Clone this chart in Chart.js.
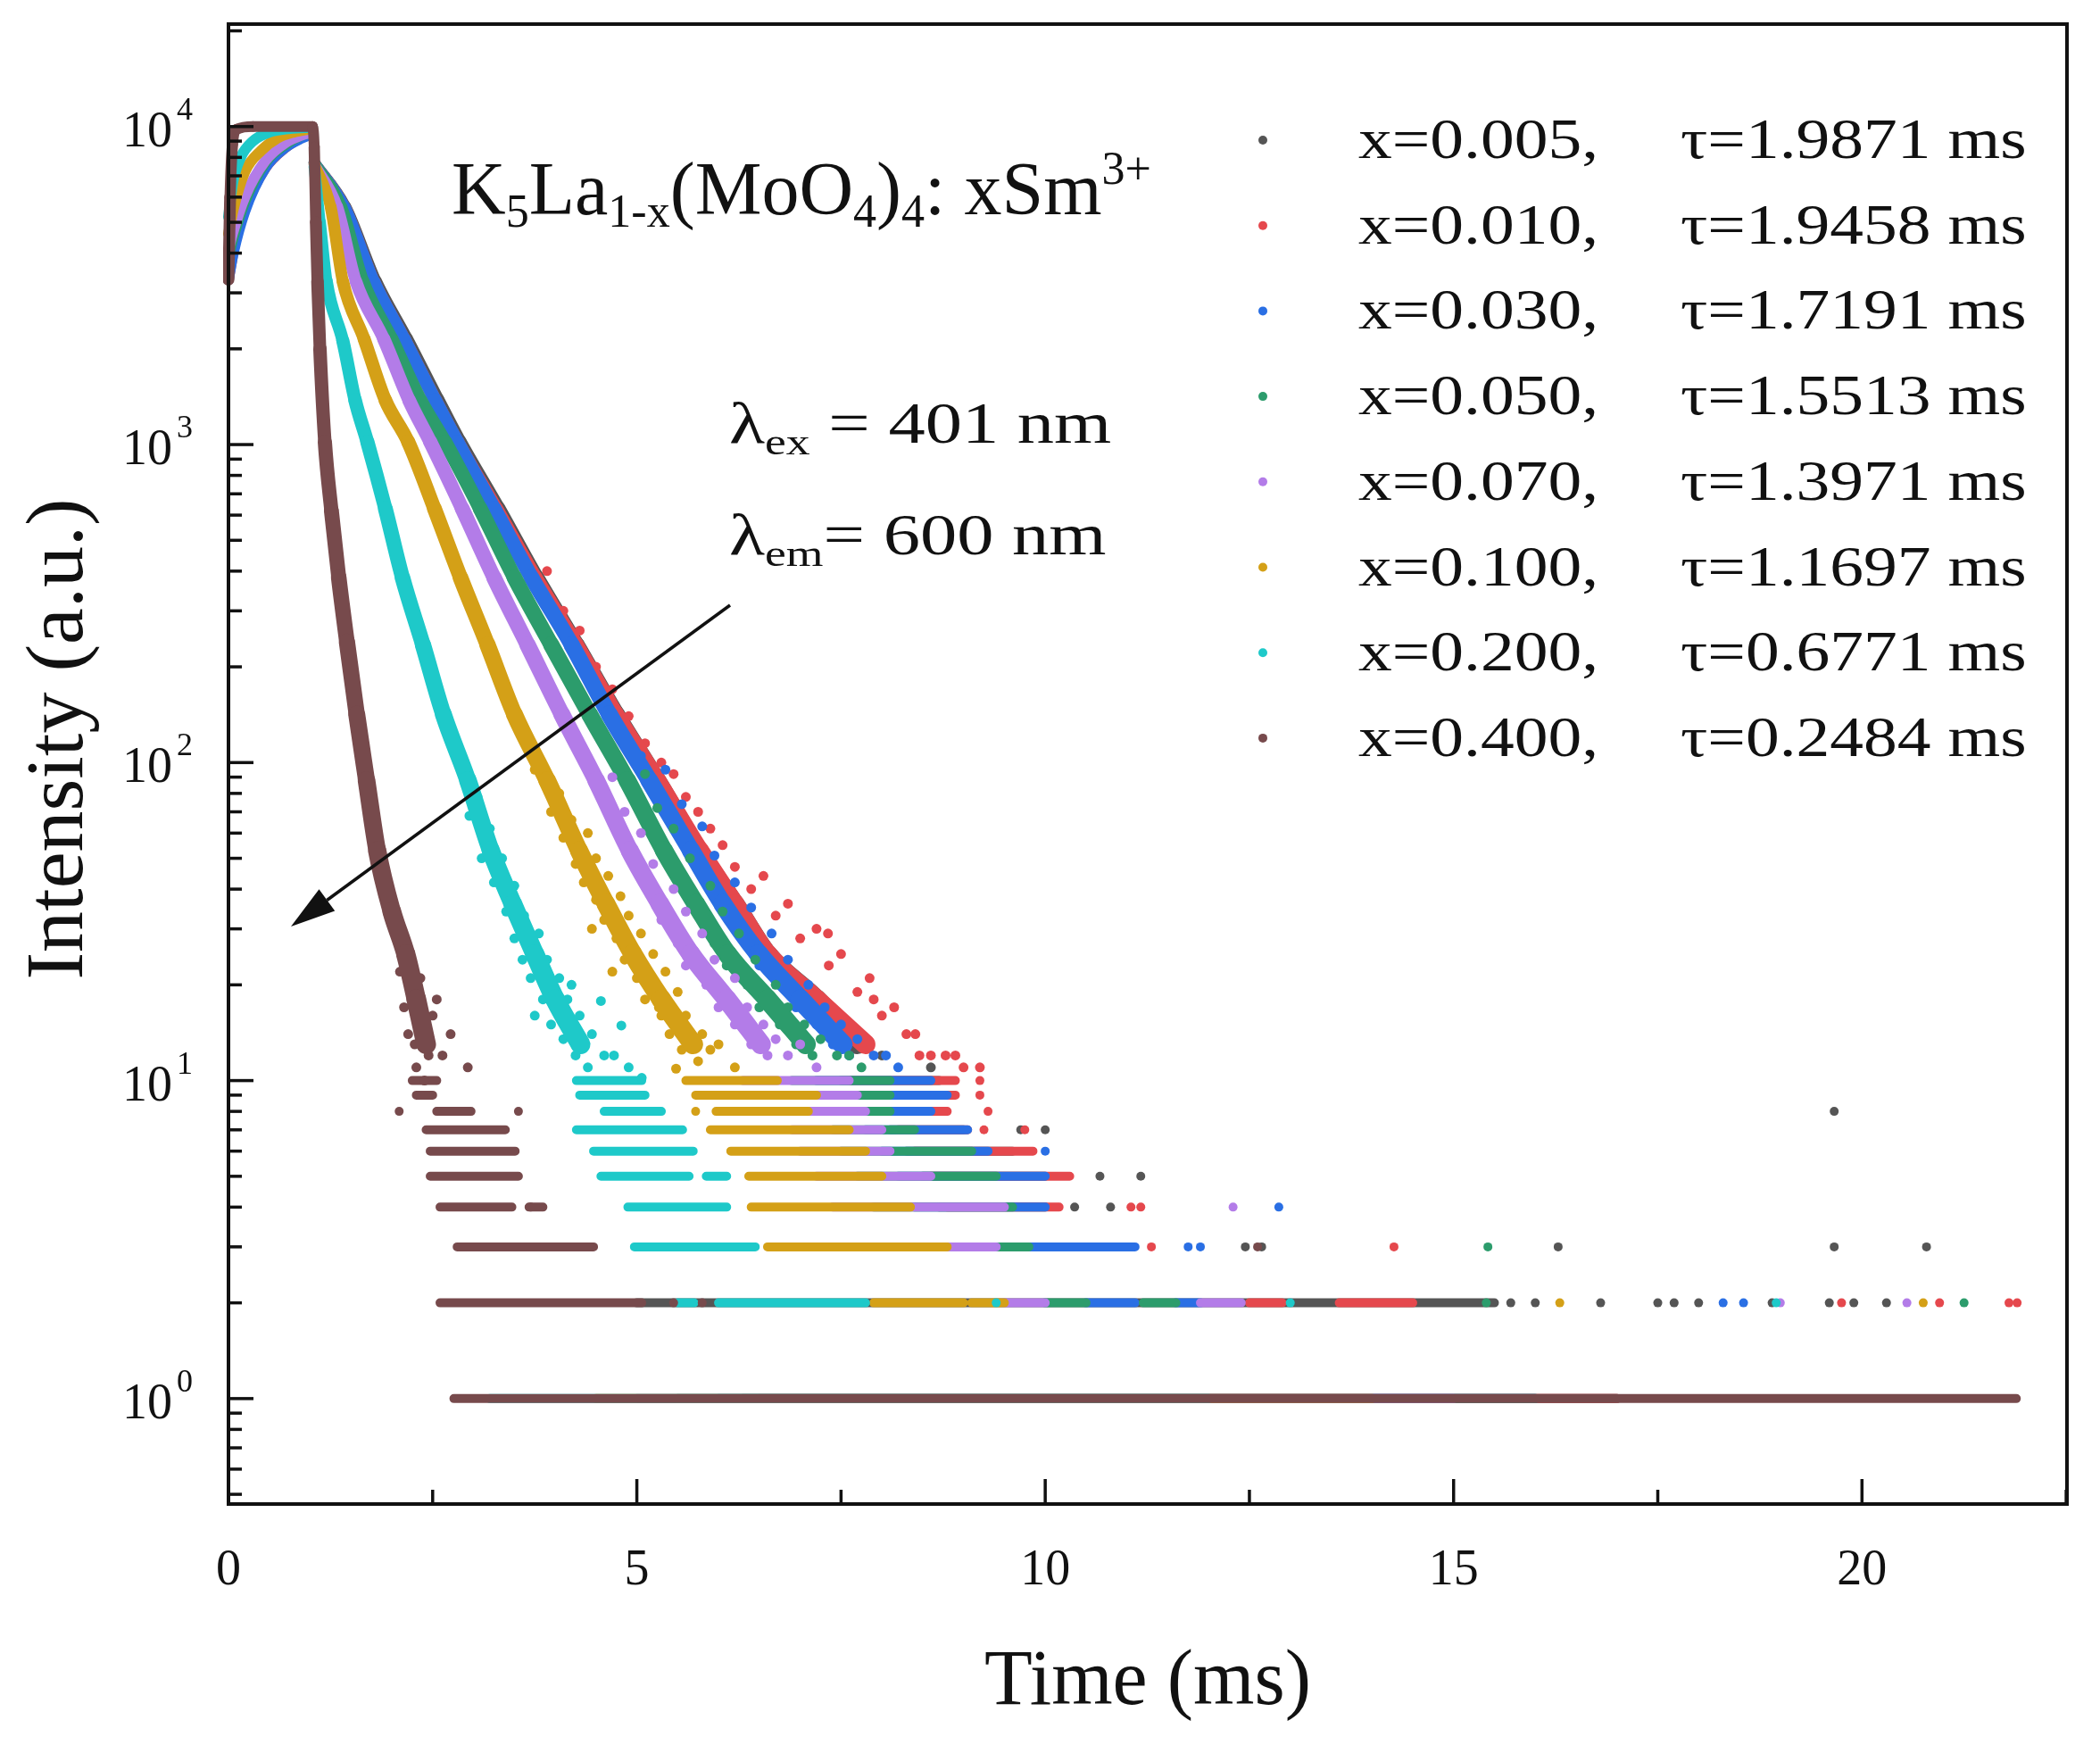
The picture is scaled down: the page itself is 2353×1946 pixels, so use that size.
<!DOCTYPE html>
<html lang="en">
<head>
    <meta charset="UTF-8">
    <title>Decay curves K5La1-x(MoO4)4:xSm3+</title>
    <script src="https://cdn.jsdelivr.net/npm/chart.js"></script>
    <style>
        html, body { margin: 0; padding: 0; background: #fff; }
        canvas { display: block; }
    </style>
</head>
<body>
<canvas id="decayChart" width="2353" height="1946"></canvas>
<script>
// series labels (legend)
var concLabels = ["x=0.005,", "x=0.010,", "x=0.030,", "x=0.050,", "x=0.070,", "x=0.100,", "x=0.200,", "x=0.400,"];
var tauLabels = ["\u03c4=1.9871 ms", "\u03c4=1.9458 ms", "\u03c4=1.7191 ms", "\u03c4=1.5513 ms",
                 "\u03c4=1.3971 ms", "\u03c4=1.1697 ms", "\u03c4=0.6771 ms", "\u03c4=0.2484 ms"];

// tick labels
var xTicks = [0, 5, 10, 15, 20];
var yTickExp = [0, 1, 2, 3, 4];

// rise part, [time ms, intensity]
var rise005 = [[0, 3400], [0.08, 4400], [0.2, 5600], [0.45, 7500], [0.7, 8700], [0.9, 9300], [1.03, 9500]];
var rise010 = [[0, 3300], [0.08, 4300], [0.2, 5500], [0.45, 7400], [0.7, 8600], [0.9, 9250], [1.03, 9500]];
var rise030 = [[0, 3300], [0.06, 4000], [0.2, 5400], [0.45, 7400], [0.7, 8600], [0.9, 9200], [1.03, 9500]];
var rise050 = [[0, 3900], [0.05, 4400], [0.2, 5800], [0.45, 7700], [0.7, 8800], [0.9, 9400], [1.03, 9600]];
var rise070 = [[0, 4100], [0.05, 4600], [0.2, 6000], [0.45, 7800], [0.7, 8900], [0.9, 9400], [1.03, 9600]];
var rise100 = [[0, 4600], [0.06, 5500], [0.2, 7200], [0.4, 8400], [0.6, 9200], [0.8, 9600], [1.03, 9850]];
var rise200 = [[0, 5200], [0.05, 6600], [0.15, 8000], [0.3, 9000], [0.5, 9600], [0.75, 9850], [1.03, 9950]];
var rise400 = [[0, 3300], [0.02, 6000], [0.05, 8800], [0.1, 9800], [0.3, 10000], [0.6, 10000], [1.03, 10000]];

// decay part, [time ms, intensity]
var decay005 = [[1.05, 7700], [1.43, 5600], [1.8, 3270], [2.18, 2150], [2.56, 1385], [2.83, 1020], [3.3, 630], [3.77, 382],
                [4.26, 235], [4.75, 142], [5.25, 88], [5.76, 53], [6.2, 36], [6.6, 25], [7.2, 18], [7.7, 13]];
var decay010 = [[1.05, 7700], [1.42, 5600], [1.78, 3260], [2.15, 2150], [2.53, 1380], [2.8, 1020], [3.27, 630], [3.75, 382],
                [4.25, 235], [4.74, 142], [5.25, 88], [5.77, 53], [6.2, 36], [6.6, 25], [7.2, 18], [7.8, 13]];
var decay030 = [[1.05, 7700], [1.42, 5600], [1.78, 3260], [2.15, 2150], [2.53, 1380], [2.8, 1020], [3.25, 630], [3.71, 382],
                [4.2, 235], [4.66, 142], [5.15, 88], [5.66, 53], [6.05, 36], [6.49, 25], [7.0, 18], [7.52, 13]];
var decay050 = [[1.05, 7700], [1.38, 5600], [1.65, 3260], [2.0, 2150], [2.35, 1380], [2.65, 1020], [3.08, 630], [3.5, 382],
                [3.95, 235], [4.42, 142], [4.88, 88], [5.33, 53], [5.72, 36], [6.11, 25], [6.6, 18], [7.07, 13]];
var decay070 = [[1.05, 7600], [1.33, 5600], [1.56, 3260], [1.9, 2150], [2.21, 1380], [2.47, 1020], [2.86, 630], [3.25, 382],
                [3.66, 235], [4.08, 142], [4.5, 88], [4.91, 53], [5.28, 36], [5.66, 25], [6.1, 18], [6.52, 13]];
var decay100 = [[1.05, 7600], [1.25, 5600], [1.4, 3260], [1.66, 2150], [1.92, 1380], [2.2, 1020], [2.52, 630], [2.84, 382],
                [3.17, 235], [3.5, 142], [3.9, 88], [4.29, 53], [4.62, 36], [4.95, 25], [5.3, 18], [5.69, 13]];
var decay200 = [[1.05, 7500], [1.12, 5000], [1.2, 3260], [1.4, 2120], [1.55, 1380], [1.7, 1020], [1.92, 630], [2.13, 382],
                [2.38, 235], [2.63, 142], [2.93, 88], [3.21, 53], [3.48, 36], [3.75, 25], [4.0, 18], [4.31, 13]];
var decay400 = [[1.03, 9900], [1.05, 8600], [1.07, 5000], [1.09, 3260], [1.12, 2000], [1.18, 1020], [1.26, 620], [1.35, 382],
                [1.45, 240], [1.57, 142], [1.69, 88], [1.82, 53], [2.0, 34], [2.17, 25], [2.3, 18], [2.42, 13]];

// scattered points around the lower end of each decay, [time ms, intensity]
var noise005 = [[7.0, 20], [7.5, 15], [8.0, 12], [8.6, 11]];
var noise010 = [[3.9, 400], [4.1, 300], [4.3, 260], [4.5, 200], [4.7, 170], [4.9, 140], [5.1, 115], [5.3, 100], [5.45, 92],
                [5.6, 78], [5.75, 70], [5.9, 62], [6.05, 55], [6.2, 47], [6.4, 40], [6.55, 44], [6.7, 33], [6.85, 36],
                [7.0, 28], [7.2, 30], [7.34, 29], [7.35, 23], [7.5, 25], [7.7, 19], [7.85, 21], [7.9, 18], [8.0, 16],
                [8.15, 17], [8.3, 14], [8.41, 14], [8.46, 12], [8.6, 12], [8.78, 12], [8.9, 12], [9.0, 11], [9.2, 11]];
var noise030 = [[5.05, 105], [5.35, 95], [5.3, 78], [5.55, 74], [5.5, 62], [5.8, 63], [5.7, 49], [5.95, 51], [5.9, 40],
                [6.2, 42], [6.1, 33], [6.4, 35], [6.3, 28], [6.65, 29], [6.5, 23], [6.85, 24], [6.8, 20], [7.1, 20],
                [6.95, 17], [7.3, 17], [7.2, 15], [7.5, 15], [7.4, 13], [7.7, 13.5], [7.6, 12], [7.9, 12], [8.05, 12],
                [8.2, 11]];
var noise050 = [[4.8, 100], [5.1, 92], [5.0, 76], [5.25, 72], [5.2, 60], [5.45, 62], [5.4, 48], [5.65, 50], [5.6, 39],
                [5.9, 41], [5.75, 33], [6.05, 34], [5.95, 27], [6.25, 29], [6.1, 23], [6.45, 24], [6.35, 20], [6.7, 20],
                [6.5, 17], [6.85, 17], [6.75, 15], [7.05, 15], [6.95, 13], [7.25, 13.5], [7.15, 12], [7.45, 12],
                [7.6, 12], [7.75, 11]];
var noise070 = [[4.4, 100], [4.7, 90], [4.6, 75], [4.85, 70], [4.8, 58], [5.05, 60], [5.0, 47], [5.2, 48], [5.15, 39],
                [5.45, 40], [5.3, 32], [5.6, 34], [5.5, 27], [5.8, 29], [5.6, 23], [5.95, 24], [5.85, 20], [6.2, 21],
                [6.0, 17], [6.35, 17], [6.2, 15], [6.55, 15], [6.4, 13], [6.7, 13.5], [6.6, 12], [6.85, 12], [7.0, 13],
                [7.2, 11]];
var noise100 = [[3.75, 95], [4.05, 80], [3.95, 70], [4.2, 66], [4.1, 58], [4.4, 60], [4.25, 48], [4.5, 50], [4.35, 42],
                [4.65, 44], [4.5, 37], [4.8, 38], [4.6, 32], [4.9, 33], [4.45, 30], [4.75, 28], [5.05, 29], [4.85, 24],
                [5.2, 25], [4.7, 22], [5.0, 21], [5.35, 22], [5.1, 18], [5.5, 19], [5.27, 17], [5.3, 16], [5.6, 16],
                [5.4, 14], [5.8, 14], [5.55, 12.5], [5.9, 12.5], [5.48, 10.9], [5.75, 11.5], [6.0, 13], [6.2, 11]];
var noise200 = [[2.85, 100], [3.05, 78], [2.95, 68], [3.2, 62], [3.1, 50], [3.35, 50], [3.25, 42], [3.5, 41], [3.4, 34],
                [3.62, 33], [3.5, 28], [3.8, 29], [3.6, 24], [3.9, 24], [3.7, 21], [4.05, 21], [4.2, 20], [3.85, 18],
                [4.15, 18], [3.75, 16], [3.95, 15], [4.3, 16], [4.1, 13.5], [4.45, 14], [4.25, 12], [4.6, 12],
                [4.4, 11], [4.72, 12], [4.81, 14.9], [4.56, 17.8], [4.9, 11], [5.06, 10.2]];
var noise400 = [[1.72, 75], [1.8, 62], [1.86, 48], [1.92, 42], [1.98, 38], [2.05, 30], [2.1, 22], [2.12, 28], [2.15, 17],
                [2.2, 26], [2.2, 14], [2.25, 19], [2.28, 13], [2.3, 17], [2.3, 11], [2.35, 21], [2.4, 14], [2.4, 10],
                [2.45, 12], [2.5, 16], [2.55, 18], [2.62, 12], [2.72, 14], [2.93, 11]];

// counting floor: runs of points at one integer level, [level, from ms, to ms]
var runs005 = [[10, 7.5, 8.7], [9, 7.7, 8.8], [8, 7.9, 8.7], [7, 8.1, 9.0], [6, 8.3, 9.6], [5, 8.5, 10.0], [4, 8.7, 10.0],
               [3, 8.9, 10.4], [2, 5.0, 15.5], [1, 6.3, 17.0]];
var runs010 = [[10, 7.6, 8.9], [9, 7.8, 8.9], [8, 8.0, 8.8], [7, 8.2, 9.05], [6, 8.4, 9.85], [5, 8.6, 10.3], [4, 8.8, 10.17],
               [3, 9.0, 10.5], [2, 12.5, 12.9], [2, 13.6, 14.5], [1, 6.5, 17.0]];
var runs030 = [[10, 7.2, 8.6], [9, 7.4, 8.8], [8, 7.6, 8.6], [7, 7.8, 9.05], [6, 8.0, 9.3], [5, 8.2, 10.0], [4, 8.4, 10.0],
               [3, 8.6, 11.1], [2, 10.5, 11.1], [2, 11.6, 11.9], [1, 6.0, 16.0]];
var runs050 = [[10, 6.9, 8.1], [9, 7.0, 8.1], [8, 7.2, 8.1], [7, 7.4, 8.4], [6, 7.5, 9.1], [5, 7.7, 9.4], [4, 7.9, 9.6],
               [3, 8.1, 9.8], [2, 10.0, 10.5], [2, 11.2, 11.6], [1, 5.5, 16.0]];
var runs070 = [[10, 6.3, 7.6], [9, 6.5, 7.7], [8, 6.7, 7.8], [7, 6.9, 8.0], [6, 7.0, 8.1], [5, 7.2, 8.6], [4, 7.4, 9.5],
               [3, 7.6, 9.4], [2, 9.5, 10.0], [2, 11.9, 12.4], [1, 5.0, 15.0]];
var runs100 = [[10, 5.6, 6.72], [9, 5.72, 7.2], [8, 5.97, 7.1], [7, 5.9, 7.6], [6, 6.15, 7.8], [5, 6.37, 8.0], [4, 6.4, 8.35],
               [3, 6.6, 8.8], [2, 7.9, 9.0], [2, 9.1, 9.5], [1, 4.5, 14.0]];
var runs200 = [[10, 4.26, 5.06], [9, 4.3, 5.1], [8, 4.6, 5.3], [7, 4.26, 5.56], [6, 4.47, 5.69], [5, 4.56, 5.64], [5, 5.85, 6.1],
               [4, 4.89, 6.1], [3, 4.97, 6.45], [2, 5.5, 5.7], [2, 6.0, 7.8], [1, 3.2, 12.0]];
var runs400 = [[10, 2.25, 2.55], [9, 2.3, 2.5], [8, 2.55, 2.97], [7, 2.42, 3.39], [6, 2.47, 3.51], [5, 2.47, 3.55],
               [4, 2.59, 3.47], [4, 3.68, 3.85], [3, 2.8, 4.47], [2, 2.59, 5.06], [1, 2.76, 21.89]];

// isolated points on the counting floor, [time ms, level]
var dots005 = [[9.7, 7], [10.0, 7], [10.67, 5], [11.17, 5], [10.36, 4], [10.8, 4], [12.45, 3], [12.65, 3], [16.28, 3],
               [19.66, 3], [20.79, 3], [19.66, 8], [15.7, 2], [16.0, 2], [16.8, 2], [17.5, 2], [17.7, 2], [18.0, 2],
               [18.9, 2], [19.6, 2], [19.9, 2], [20.3, 2]];
var dots010 = [[9.2, 10], [9.2, 9], [9.3, 8], [9.25, 7], [9.75, 7], [11.05, 4], [11.17, 4], [11.3, 3], [14.27, 3],
               [19.75, 2], [20.95, 2], [21.8, 2], [21.9, 2]];
var dots030 = [[10.0, 6], [12.86, 4], [11.75, 3], [11.9, 3], [18.3, 2], [18.55, 2]];
var dots050 = [[15.42, 3], [15.4, 2], [21.25, 2]];
var dots070 = [[12.3, 4], [19.0, 2], [20.55, 2]];
var dots100 = [[5.72, 8], [16.3, 2], [20.75, 2]];
var dots200 = [[9.4, 2], [13.0, 2], [18.95, 2]];
var dots400 = [[2.09, 8], [3.55, 8], [3.7, 4], [12.6, 3], [5.45, 2], [5.8, 2]];

var riseSets = [rise005, rise010, rise030, rise050, rise070, rise100, rise200, rise400];
var decaySets = [decay005, decay010, decay030, decay050, decay070, decay100, decay200, decay400];
var noiseSets = [noise005, noise010, noise030, noise050, noise070, noise100, noise200, noise400];
var runSets = [runs005, runs010, runs030, runs050, runs070, runs100, runs200, runs400];
var dotSets = [dots005, dots010, dots030, dots050, dots070, dots100, dots200, dots400];

var colors = ["#555555", "#e5484d", "#2a6fe4", "#2c9c6c", "#b37ce8", "#d4a017", "#1ec9c9", "#774a4c"];

function toXY(arr) {
    return arr.map(function(p) { return { x: p[0], y: p[1] }; });
}

function runPoints(runs) {
    var out = [];
    runs.forEach(function(r) {
        out.push({ x: r[1], y: r[0] }, { x: r[2], y: r[0] }, { x: r[2], y: null });
    });
    return out;
}

// band gets wider as the signal gets noisier
function bandWidth(ctx) {
    var y = Math.sqrt(ctx.p0.parsed.y * ctx.p1.parsed.y);
    return 12 + 3.6 * (4 - Math.log10(y));
}

var datasets = [];
for (var i = 0; i < 8; i++) {
    var c = colors[i];
    var ord = 7 - i; // x=0.400 drawn on top
    var rise = toXY(riseSets[i]);
    var decay = toXY(decaySets[i]);
    if (i === 7) {
        // brown falls straight from the plateau
        datasets.push({ label: concLabels[i], data: rise.concat(decay), showLine: true, borderColor: c,
                        borderWidth: 14, segment: { borderWidth: bandWidth }, cubicInterpolationMode: "monotone",
                        borderCapStyle: "round", borderJoinStyle: "round", pointRadius: 0, order: ord, clip: 6 });
    } else {
        datasets.push({ label: concLabels[i], data: rise, showLine: true, borderColor: c, borderWidth: 12,
                        cubicInterpolationMode: "monotone", borderCapStyle: "round", pointRadius: 0, order: ord, clip: 6 });
        datasets.push({ data: decay, showLine: true, borderColor: c, borderWidth: 14, segment: { borderWidth: bandWidth },
                        cubicInterpolationMode: "monotone", borderCapStyle: "round", borderJoinStyle: "round",
                        pointRadius: 0, order: ord });
    }
    datasets.push({ data: toXY(noiseSets[i]), backgroundColor: c, borderWidth: 0, pointRadius: 5.5, order: ord });
    datasets.push({ data: runPoints(runSets[i]), showLine: true, borderColor: c, borderWidth: 10,
                    borderCapStyle: "round", pointRadius: 0, order: ord });
    datasets.push({ data: toXY(dotSets[i]), backgroundColor: c, borderWidth: 0, pointRadius: 5, order: ord });
}

var SERIF = '"Liberation Serif", "Times New Roman", serif';

// draws pieces [text, sizeFactor, dy] one after the other, returns end x
function richText(ctx, pieces, x, y, size, sx) {
    var cx = x;
    pieces.forEach(function(p) {
        var fs = size * p[1];
        ctx.font = fs + "px " + SERIF;
        ctx.save();
        ctx.translate(cx, y + p[2] * size);
        ctx.scale(sx, 1);
        ctx.fillText(p[0], 0, 0);
        ctx.restore();
        cx += ctx.measureText(p[0]).width * sx;
    });
    return cx;
}

var decor = {
    id: "decor",
    afterDraw: function(chart) {
        var ctx = chart.ctx;
        var a = chart.chartArea;
        var xs = chart.scales.x, ys = chart.scales.y;
        ctx.save();
        ctx.fillStyle = "#111";
        ctx.strokeStyle = "#111";
        ctx.lineWidth = 4;
        ctx.textBaseline = "alphabetic";

        // frame
        ctx.strokeRect(a.left, a.top, a.right - a.left, a.bottom - a.top);

        // y ticks, inward
        ctx.lineWidth = 3.5;
        for (var e = -1; e <= 4; e++) {
            for (var k = 1; k <= 9; k++) {
                var v = k * Math.pow(10, e);
                if (v < ys.min || v > ys.max) continue;
                var py = ys.getPixelForValue(v);
                var len = k === 1 ? 28 : 15;
                ctx.beginPath();
                ctx.moveTo(a.left, py);
                ctx.lineTo(a.left + len, py);
                ctx.stroke();
            }
        }
        // x ticks, inward
        for (var t = 0; t <= xs.max; t += 2.5) {
            var px = xs.getPixelForValue(t);
            var major = Math.abs(t % 5) < 1e-6;
            ctx.beginPath();
            ctx.moveTo(px, a.bottom);
            ctx.lineTo(px, a.bottom - (major ? 28 : 16));
            ctx.stroke();
        }

        // y tick labels 10^n
        yTickExp.forEach(function(n) {
            var py = ys.getPixelForValue(Math.pow(10, n));
            ctx.font = "56px " + SERIF;
            ctx.textAlign = "right";
            ctx.fillText("10", 193, py + 22);
            ctx.font = "36px " + SERIF;
            ctx.textAlign = "left";
            ctx.fillText(String(n), 198, py - 8);
        });

        // x tick labels
        ctx.font = "56px " + SERIF;
        ctx.textAlign = "center";
        xTicks.forEach(function(v) {
            ctx.fillText(String(v), xs.getPixelForValue(v), 1775);
        });

        // axis titles
        ctx.font = "88px " + SERIF;
        ctx.textAlign = "center";
        ctx.fillText("Time (ms)", (a.left + a.right) / 2, 1909);
        ctx.save();
        ctx.translate(92, 828);
        ctx.rotate(-Math.PI / 2);
        ctx.font = "92px " + SERIF;
        ctx.fillText("Intensity (a.u.)", 0, 0);
        ctx.restore();

        // composition and wavelengths
        ctx.textAlign = "left";
        richText(ctx, [["K", 1, 0], ["5", 0.62, 0.17], ["La", 1, 0], ["1-x", 0.62, 0.17], ["(MoO", 1, 0],
                       ["4", 0.62, 0.17], [")", 1, 0], ["4", 0.62, 0.17], [": xSm", 1, 0], ["3+", 0.62, -0.4]],
                 506, 240, 84, 1.0);
        richText(ctx, [["\u03bb", 1, 0], ["ex", 0.65, 0.2], [" = 401 nm", 1, 0]], 817, 496, 66, 1.25);
        richText(ctx, [["\u03bb", 1, 0], ["em", 0.65, 0.2], ["= 600 nm", 1, 0]], 817, 621, 66, 1.25);

        // arrow
        var x0 = 818, y0 = 678, x1 = 326, y1 = 1038;
        var ang = Math.atan2(y1 - y0, x1 - x0);
        var hl = 50, hw = 15;
        var bx = x1 - hl * Math.cos(ang), by = y1 - hl * Math.sin(ang);
        ctx.lineWidth = 3.5;
        ctx.beginPath();
        ctx.moveTo(x0, y0);
        ctx.lineTo(bx, by);
        ctx.stroke();
        ctx.beginPath();
        ctx.moveTo(x1, y1);
        ctx.lineTo(bx + hw * Math.sin(ang), by - hw * Math.cos(ang));
        ctx.lineTo(bx - hw * Math.sin(ang), by + hw * Math.cos(ang));
        ctx.closePath();
        ctx.fill();

        // legend
        for (var i = 0; i < concLabels.length; i++) {
            var base = 177 + 95.7 * i;
            ctx.fillStyle = colors[i];
            ctx.beginPath();
            ctx.arc(1415, base - 20, 5, 0, Math.PI * 2);
            ctx.fill();
            ctx.fillStyle = "#111";
            richText(ctx, [[concLabels[i], 1, 0]], 1522, base, 64, 1.18);
            richText(ctx, [[tauLabels[i], 1, 0]], 1883, base, 64, 1.18);
        }
        ctx.restore();
    }
};

new Chart(document.getElementById("decayChart"), {
    type: "scatter",
    data: { datasets: datasets },
    options: {
        responsive: false,
        animation: false,
        devicePixelRatio: 1,
        layout: { padding: { left: 256, right: 37, top: 27, bottom: 261 } },
        plugins: { legend: { display: false }, tooltip: { enabled: false } },
        scales: {
            x: { type: "linear", min: 0, max: 22.51, display: false },
            y: { type: "logarithmic", min: 0.466, max: 21000, display: false }
        }
    },
    plugins: [decor]
});
</script>
</body>
</html>
